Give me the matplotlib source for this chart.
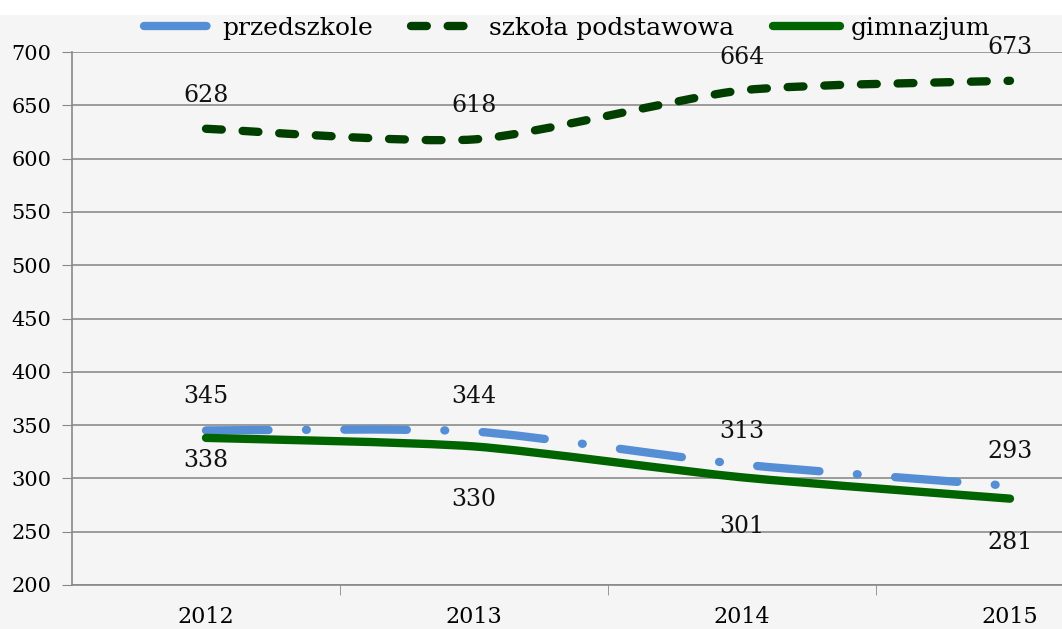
import matplotlib.pyplot as plt
from matplotlib.path import Path
from matplotlib.patches import PathPatch, Rectangle
from matplotlib.lines import Line2D

years = ["2012", "2013", "2014", "2015"]
przedszkole = [345, 344, 313, 293]
szkola = [628, 618, 664, 673]
gimnazjum = [338, 330, 301, 281]

# label offsets in pixels (positive = above)
off_przed = [34, 35, 33, 34]
off_szkola = [33, 34, 33, 33]
off_gimn = [-23, -53, -49, -44]

plt.rcParams['font.family'] = ['DejaVu Serif']


def smooth_path(ys, k=0.11):
    # Excel-like smoothed line through the points (cubic bezier segments)
    pts = list(zip(range(len(ys)), ys))
    verts = [pts[0]]
    codes = [Path.MOVETO]
    n = len(pts)
    for i in range(n - 1):
        p0 = pts[max(i - 1, 0)]
        p1 = pts[i]
        p2 = pts[i + 1]
        p3 = pts[min(i + 2, n - 1)]
        c1 = (p1[0] + (p2[0] - p0[0]) * k, p1[1] + (p2[1] - p0[1]) * k)
        c2 = (p2[0] - (p3[0] - p1[0]) * k, p2[1] - (p3[1] - p1[1]) * k)
        verts += [c1, c2, p2]
        codes += [Path.CURVE4] * 3
    return Path(verts, codes)


fig = plt.figure(figsize=(10.62, 6.29), dpi=100, facecolor='#f5f5f5')
fig.add_artist(Rectangle((0, 1 - 15 / 629), 1, 15 / 629, transform=fig.transFigure,
                         facecolor='white', edgecolor='none', zorder=0))
ax = fig.add_axes([72 / 1062, 44 / 629, 1072 / 1062, 533 / 629])
ax.set_facecolor('#f5f5f5')

lw = 6.0
series = [
    (przedszkole, '#558ed5', (0, (7.5, 4.5, 0.1, 4.5)), 'przedszkole', off_przed),
    (szkola, '#003f00', (0, (1.9, 2.5)), 'szkoła podstawowa', off_szkola),
    (gimnazjum, '#006400', 'solid', 'gimnazjum', off_gimn),
]
handles = []
for vals, col, ls, name, offs in series:
    patch = PathPatch(smooth_path(vals), facecolor='none', edgecolor=col, lw=lw,
                      linestyle=ls, capstyle='round', joinstyle='round', zorder=3)
    ax.add_patch(patch)
    handles.append(Line2D([], [], color=col, lw=lw, linestyle=ls,
                          dash_capstyle='round', solid_capstyle='round', label=name))
    for i, v in enumerate(vals):
        ax.annotate(str(v), (i, v), xytext=(0, offs[i] * 0.72), textcoords='offset points',
                    ha='center', va='center', fontsize=17, color='#111111', zorder=4)

ax.set_xlim(-0.5, 3.5)
ax.set_ylim(200, 700)
ax.set_yticks(range(200, 701, 50))
ax.set_xticks(range(len(years)))
ax.set_xticklabels(years)
ax.set_xticks([0.5, 1.5, 2.5], minor=True)
ax.tick_params(axis='x', which='major', length=0, pad=15, labelsize=16)
ax.tick_params(axis='x', which='minor', length=7, color='#888888', direction='out')
ax.tick_params(axis='y', length=7, color='#888888', pad=8, labelsize=15)
ax.grid(axis='y', color='#8c8c8c', lw=1.2)
ax.set_axisbelow(True)
for s in ['top', 'right']:
    ax.spines[s].set_visible(False)
for s in ['left', 'bottom']:
    ax.spines[s].set_color('#888888')
    ax.spines[s].set_linewidth(1.2)

fig.legend(handles=handles, loc='center', bbox_to_anchor=(567 / 1062, 1 - 28 / 629),
           ncol=3, frameon=False, fontsize=18, handlelength=2.7, handletextpad=0.4,
           columnspacing=1.55)

fig.savefig('out.png', dpi=100, facecolor=fig.get_facecolor())
